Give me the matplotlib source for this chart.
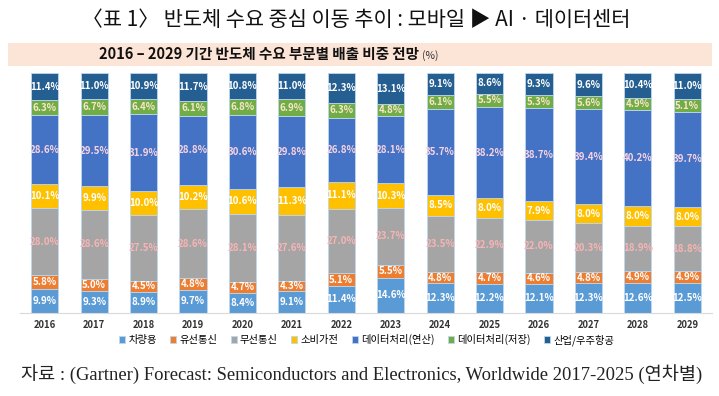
import matplotlib
matplotlib.use("Agg")
import matplotlib.pyplot as plt
from matplotlib.patches import Rectangle
import numpy as np

plt.rcParams['font.family'] = ['Noto Sans CJK KR', 'DejaVu Sans']

years = ['2016', '2017', '2018', '2019', '2020', '2021', '2022',
         '2023', '2024', '2025', '2026', '2027', '2028', '2029']

series_names = ['차량용', '유선통신', '무선통신', '소비가전',
                '데이터처리(연산)', '데이터처리(저장)', '산업/우주항공']

vehicle = [9.9, 9.3, 8.9, 9.7, 8.4, 9.1, 11.4, 14.6, 12.3, 12.2, 12.1, 12.3, 12.6, 12.5]
wired = [5.8, 5.0, 4.5, 4.8, 4.7, 4.3, 5.1, 5.5, 4.8, 4.7, 4.6, 4.8, 4.9, 4.9]
wireless = [28.0, 28.6, 27.5, 28.6, 28.1, 27.6, 27.0, 23.7, 23.5, 22.9, 22.0, 20.3, 18.9, 18.8]
consumer = [10.1, 9.9, 10.0, 10.2, 10.6, 11.3, 11.1, 10.3, 8.5, 8.0, 7.9, 8.0, 8.0, 8.0]
dp_compute = [28.6, 29.5, 31.9, 28.8, 30.6, 29.8, 26.8, 28.1, 35.7, 38.2, 38.7, 39.4, 40.2, 39.7]
dp_storage = [6.3, 6.7, 6.4, 6.1, 6.8, 6.9, 6.3, 4.8, 6.1, 5.5, 5.3, 5.6, 4.9, 5.1]
industrial = [11.4, 11.0, 10.9, 11.7, 10.8, 11.0, 12.3, 13.1, 9.1, 8.6, 9.3, 9.6, 10.4, 11.0]

series = [vehicle, wired, wireless, consumer, dp_compute, dp_storage, industrial]
colors = ['#5B9BD5', '#ED7D31', '#A5A5A5', '#FFC000', '#4472C4', '#70AD47', '#255E91']
label_colors = ['white', 'white', '#F8B4B4', 'white', '#F8D3E3', '#FBE5C8', 'white']

fig = plt.figure(figsize=(7.19, 3.96), dpi=100)
ax = fig.add_axes([20 / 719, 1 - 313 / 396, 692 / 719, 240 / 396])

data = np.array(series)
totals = data.sum(axis=0)
x = np.arange(len(years))
bottom = np.zeros(len(years))
for vals, name, c, lc in zip(data, series_names, colors, label_colors):
    h = vals / totals * 100
    ax.bar(x, h, 0.55, bottom=bottom, color=c, label=name,
           edgecolor='#BDD7EE', linewidth=0.6)
    for xi, b, hh, v in zip(x, bottom, h, vals):
        ax.text(xi, b + hh / 2, f'{v:.1f}%', ha='center', va='center',
                fontsize=7.0, fontweight='bold', color=lc)
    bottom += h

ax.set_xlim(-0.5, len(years) - 0.5)
ax.set_ylim(0, 100)
ax.set_yticks([])
ax.set_xticks(x)
ax.set_xticklabels(years, fontsize=6.8, fontweight='bold', color='#333333')
ax.tick_params(axis='x', length=0, pad=5)
for s in ['top', 'left', 'right']:
    ax.spines[s].set_visible(False)
ax.spines['bottom'].set_color('#D9D9D9')
ax.spines['bottom'].set_linewidth(0.8)

# title
fig.text(0.495, 1 - 20 / 396, '〈표 1〉 반도체 수요 중심 이동 추이 : 모바일 ▶ AI · 데이터센터',
         ha='center', va='center', fontsize=15, color='#111111')

# subtitle band
fig.patches.append(Rectangle((8 / 719, 1 - 66 / 396), 704 / 719, 23 / 396,
                             transform=fig.transFigure, facecolor='#FCE4D6',
                             edgecolor='none', zorder=0))
sub = fig.text(0.36, 1 - 54.5 / 396, '2016 – 2029 기간 반도체 수요 부문별 배출 비중 전망',
               ha='center', va='center', fontsize=10.5, fontweight='bold', color='#111111')
fig.canvas.draw()
bb = sub.get_window_extent(fig.canvas.get_renderer())
fig.text(bb.x1 / fig.bbox.width + 0.004, 1 - 55.5 / 396, '(%)',
         ha='left', va='center', fontsize=7.5, color='#333333')

handles, labels = ax.get_legend_handles_labels()
fig.legend(handles, labels, loc='center', bbox_to_anchor=(0.51, 1 - 340 / 396),
           ncol=7, frameon=False, fontsize=7.4, handlelength=0.6, handleheight=0.6,
           handletextpad=0.3, columnspacing=1.3)

fig.text(0.503, 1 - 374 / 396,
         '자료 : (Gartner) Forecast: Semiconductors and Electronics, Worldwide 2017-2025 (연차별)',
         ha='center', va='center', fontsize=13.4,
         family=['Liberation Serif', 'Noto Sans CJK KR'], color='#222222')

fig.savefig('out.png', dpi=100)
